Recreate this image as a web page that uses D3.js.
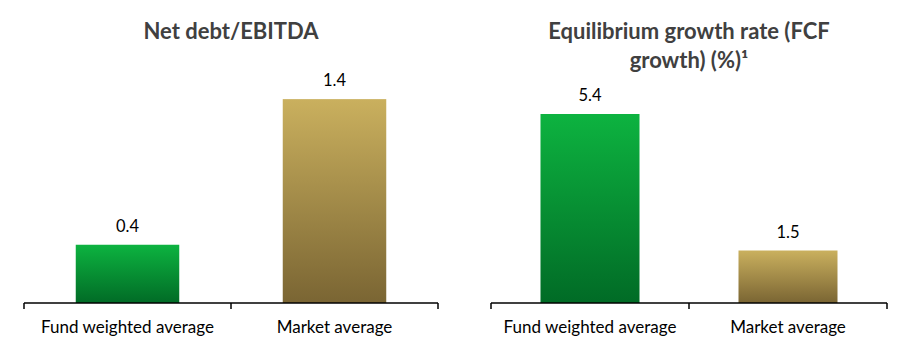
<!DOCTYPE html>
<html><head><meta charset="utf-8">
<script src="https://cdn.jsdelivr.net/npm/d3@7"></script>
<style>body{margin:0;background:#fff}svg{display:block}</style>
</head><body>
<svg id="c" width="922" height="346"></svg>
<script>
const categories = ["Fund weighted average", "Market average"];
const netDebtValues = [0.4, 1.4];
const growthValues = [5.4, 1.5];
const titleLeft = ["Net debt/EBITDA"];
const titleRight = ["Equilibrium growth rate (FCF", "growth) (%)¹"];
const valueLabelsLeft = ["0.4", "1.4"];
const valueLabelsRight = ["5.4", "1.5"];

const svg = d3.select("#c");
const defs = svg.append("defs");
function grad(id, c1, c2){
  const g = defs.append("linearGradient").attr("id", id).attr("x1",0).attr("y1",0).attr("x2",0).attr("y2",1);
  g.append("stop").attr("offset","0%").attr("stop-color",c1);
  g.append("stop").attr("offset","100%").attr("stop-color",c2);
}
grad("gGreen", "#0db340", "#016b26");
grad("gGold", "#cab05e", "#7a6533");
const fills = ["url(#gGreen)", "url(#gGold)"];
const font = "Lato, 'Open Sans', sans-serif";

function panel(cfg){
  const x = d3.scaleBand().domain(categories).range([cfg.x0, cfg.x1]).paddingInner(0.5).paddingOuter(0.25);
  const y = d3.scaleLinear().domain(cfg.domain).range([cfg.base, cfg.top]);
  const g = svg.append("g");
  g.selectAll("rect").data(cfg.values).join("rect")
    .attr("x", (d,i)=>x(categories[i]))
    .attr("width", x.bandwidth())
    .attr("y", d=>y(d))
    .attr("height", d=>y(0)-y(d))
    .attr("fill", (d,i)=>fills[i]);
  g.selectAll("text.val").data(cfg.values).join("text").attr("class","val")
    .attr("x", (d,i)=>x(categories[i]) + x.bandwidth()/2)
    .attr("y", d=>y(d)-13)
    .attr("text-anchor","middle")
    .attr("font-family", font).attr("font-size", 16.5).attr("fill", "#000")
    .text((d,i)=>cfg.labels[i]);
  const ax = g.append("g").attr("transform", `translate(0,${cfg.base})`)
    .call(d3.axisBottom(x).tickSize(0).tickPadding(18));
  ax.select(".domain").remove();
  ax.selectAll("text").attr("font-family", font).attr("font-size", 17).attr("fill", "#000");
  const bounds = [cfg.x0, (cfg.x0+cfg.x1)/2, cfg.x1];
  g.append("line").attr("x1", cfg.x0).attr("x2", cfg.x1).attr("y1", cfg.base).attr("y2", cfg.base)
    .attr("stroke", "#000").attr("stroke-width", 1.5);
  g.selectAll("line.tk").data(bounds).join("line").attr("class","tk")
    .attr("x1", d=>d).attr("x2", d=>d).attr("y1", cfg.base).attr("y2", cfg.base+6)
    .attr("stroke", "#000").attr("stroke-width", 1.5);
  g.selectAll("text.title").data(cfg.title).join("text").attr("class","title")
    .attr("x", cfg.tx).attr("y", (d,i)=>39 + i*29)
    .attr("text-anchor","middle")
    .attr("font-family", font).attr("font-size", 22).attr("font-weight", "bold").attr("fill", "#404040")
    .text(d=>d);
}

panel({x0:24, x1:438, base:303, top:70, domain:[0,1.6], values: netDebtValues, labels: valueLabelsLeft, title: titleLeft, tx:231});
panel({x0:491, x1:887, base:303, top:93, domain:[0,6], values: growthValues, labels: valueLabelsRight, title: titleRight, tx:689});
</script>
</body></html>
